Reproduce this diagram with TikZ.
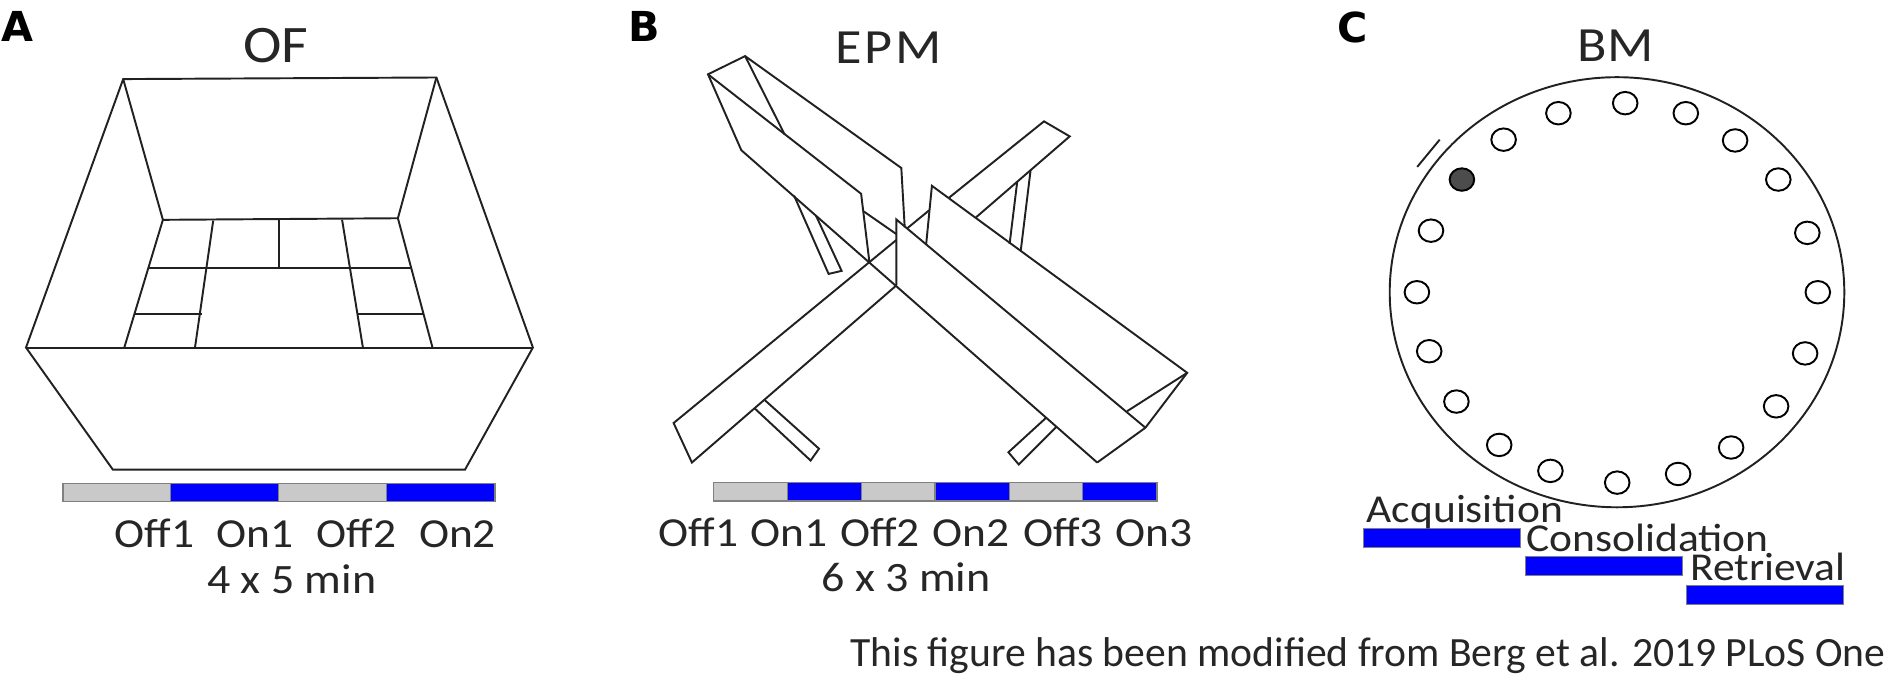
\documentclass[tikz,border=0pt]{standalone}
\usepackage{fontspec}
\setmainfont{Carlito}
\newfontfamily\widefont[FakeStretch=1.1]{Carlito}
\newfontfamily\panelfont{DejaVu Sans}
\newcommand{\pxfont}[1]{\fontsize{#1}{#1}\selectfont}
\begin{document}
\begin{tikzpicture}[
    x=0.02cm, y=-0.01989cm,
    wall/.style={draw=black!87, line width=1.1pt, line join=miter},
    hole/.style={draw=black, line width=1.1pt, fill=white},
    offseg/.style={draw=black!50, line width=0.7pt, fill=black!21},
    onseg/.style={draw=black!50, line width=0.7pt, fill=blue},
    lbl/.style={font=\widefont\pxfont{22.5}, text=black!85, inner sep=0pt, anchor=base},
    seglbl/.style={lbl, font=\widefont\pxfont{23.5}},
    timelbl/.style={lbl, font=\widefont\pxfont{23.8}},
    ttl/.style={font=\widefont\pxfont{28}, text=black!85, inner sep=0pt, anchor=base},
    panel/.style={font=\panelfont\pxfont{23.5}\bfseries, inner sep=0pt, anchor=base west},
]
\useasboundingbox (0,0) rectangle (1889,683.7);
% ------------------------------------------------ (A) open field
\node[panel] (panelA) at (1,42) {A};
\node[ttl, font=\widefont\pxfont{30}] (titleOF) at (275.7,62.4) {OF};
\draw[wall] (26,349.4) -- (123.2,79.5) -- (436.4,77.9) -- (532.9,349.4) -- (465,472.2) -- (112.9,472.2) -- cycle;
\draw[wall] (26,349.4) -- (532.9,349.4);
\draw[wall] (123.2,79.5) -- (162.9,221) -- (397.9,219.4) -- (436.4,77.9);
\draw[wall] (124.3,349.4) -- (162.9,221);
\draw[wall] (432.5,349.4) -- (397.9,219.4);
\draw[wall] (213.2,221.8) -- (195,349.4);
\draw[wall] (342.1,221) -- (362.9,349.4);
\draw[wall] (279.3,221) -- (279.3,269.5);
\draw[wall] (148.2,269.5) -- (410.7,269.5);
\draw[wall] (135.4,316) -- (201.8,316);
\draw[wall] (358.2,316) -- (423.2,316);
\foreach \a/\b/\s in {62.9/170.7/offseg, 170.7/278.6/onseg, 278.6/386.4/offseg, 386.4/495/onseg} {
  \draw[\s] (\a,485.7) rectangle (\b,504);
}
\foreach \x/\t in {154.3/Off1, 255/On1, 356.4/Off2, 457.5/On2} {
  \node[seglbl] (ofl\t) at (\x,550.5) {\t};
}
\node[timelbl] (ofTime) at (291.8,596.2) {4 x 5 min};
% ------------------------------------------------ (B) elevated plus maze
\node[panel] (panelB) at (628.4,42) {B};
\node[ttl] (titleEPM) at (888.7,63.6) {\addfontfeature{LetterSpace=6}EPM};
% north-west arm
\draw[wall] (904.7,228.5) -- (901.3,168.9) -- (745.1,56.4) -- (708,74.7) -- (741.3,151) -- (1097.2,465);
\draw[wall] (708,74.7) -- (861.1,194.8) -- (869.5,264.3);
\draw[wall] (745.1,56.4) -- (784.6,135.1);
\draw[wall] (863.8,212.6) -- (896.3,235.3);
\draw[wall] (794.1,196.7) -- (828.6,275.4) -- (841.6,272.3) -- (815.9,216.6);
% north-east and south-west arm
\draw[wall] (896.3,241.3) -- (673.6,425.3) -- (691.9,465) -- (896.3,287);
\draw[wall] (907,229.7) -- (929.2,211.4);
\draw[wall] (949.1,198.7) -- (1044,122) -- (1069.7,137.1) -- (975.9,218.6);
\draw[wall] (1009.6,245.2) -- (1017.2,182.8);
\draw[wall] (1020.7,252.4) -- (1030.6,170.9);
\draw[wall] (754.7,410.6) -- (810.6,463) -- (819,451.1) -- (764.7,402.2);
% south-east arm
\draw[wall] (926.2,245.2) -- (931.9,186.8) -- (1187.2,374.8) -- (1145.4,430) -- (1097.2,465);
\draw[wall] (896.3,287) -- (896.3,220.6) -- (1145.4,430);
\draw[wall] (1187.2,374.8) -- (1127.1,413.4);
\draw[wall] (1046,420.1) -- (1008.4,454.7) -- (1018.8,467) -- (1056.3,429.3);
\foreach \a/\b/\s in {713.8/787.6/offseg, 787.6/861.5/onseg, 861.5/935/offseg, 935/1009.2/onseg, 1009.2/1082.7/offseg, 1082.7/1156.9/onseg} {
  \draw[\s] (\a,484.9) rectangle (\b,503.6);
}
\foreach \x/\t in {698.5/Off1, 789.2/On1, 880.2/Off2, 971.3/On2, 1062.8/Off3, 1153.9/On3} {
  \node[seglbl] (epml\t) at (\x,549.3) {\t};
}
\node[timelbl] (epmTime) at (905.9,595) {6 x 3 min};
% ------------------------------------------------ (C) barnes maze
\node[panel] (panelC) at (1337.4,43) {C};
\node[ttl] (titleBM) at (1615.7,62.3) {BM};
\draw[wall] (1617,293.8) ellipse [x radius=227.3, y radius=216.2];
\draw[wall] (1417.2,167.8) -- (1439.7,140.4);
\foreach \x/\y in {1625.2/103.7, 1685.8/113.8, 1735.1/141.2, 1778.3/180.5, 1807.3/234.1, 1817.8/293.8, 1805.1/355.3, 1776.1/408.5, 1731.1/449.9, 1678.1/476.5, 1617.2/485.2, 1550.4/473.4, 1499.2/447.3, 1456.4/403.7, 1429.2/353.1, 1416.9/293.8, 1431/231.9, 1503.6/140.4, 1558.4/113.8} {
  \draw[hole] (\x,\y) ellipse [x radius=12.3, y radius=11.3];
}
\draw[hole, fill=black!70] (1461.9,180.5) ellipse [x radius=12.3, y radius=11.3];
\draw[onseg] (1363.2,531) rectangle (1520.3,550.6);
\draw[onseg] (1525.7,559.7) rectangle (1682.8,578.9);
\draw[onseg] (1686.5,588.5) rectangle (1843.6,607.7);
\node[lbl, anchor=base west] (acq) at (1366.4,525.3) {Acquisition};
\node[lbl, anchor=base west] (cons) at (1526.1,554.5) {Consolidation};
\node[lbl, anchor=base west] (retr) at (1690,584.1) {Retrieval};
% ------------------------------------------------ source line
\node[lbl, font=\pxfont{23.7}, anchor=base east] (source) at (1886,670.4) {This figure has been modified from Berg et al. 2019 PLoS One};
\end{tikzpicture}
\end{document}
